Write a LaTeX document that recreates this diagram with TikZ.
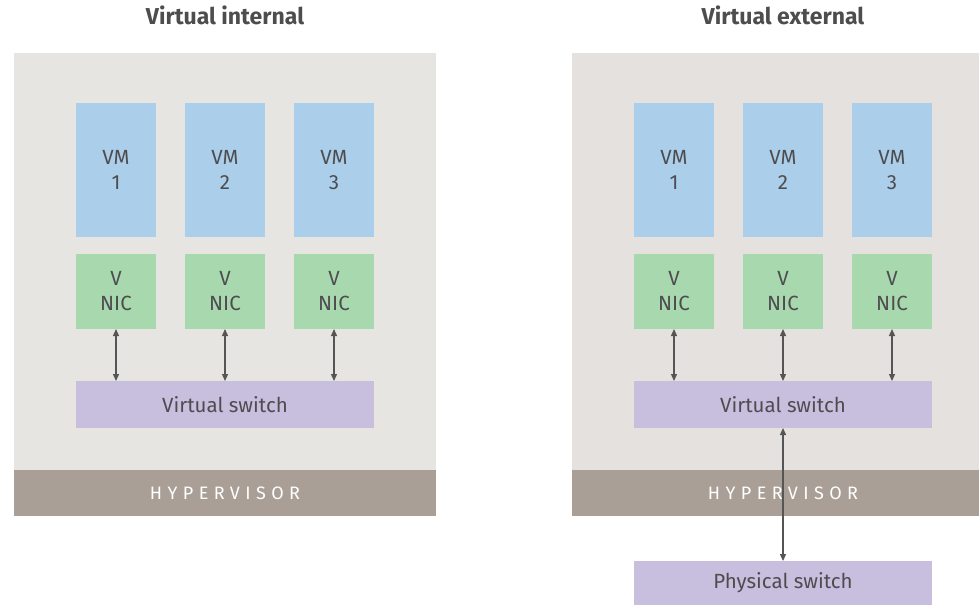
\documentclass[tikz,border=0pt]{standalone}
\usepackage{fontspec}
\setmainfont{Fira Sans}
\usetikzlibrary{arrows.meta}
\definecolor{panelbg}{HTML}{E7E5E2}
\definecolor{panelbgb}{HTML}{E5E1DE}
\definecolor{hyperc}{HTML}{A99F96}
\definecolor{vmc}{HTML}{ABCFEB}
\definecolor{nicc}{HTML}{A8D8AE}
\definecolor{swc}{HTML}{C8BFDF}
\definecolor{txtc}{HTML}{4D4D4F}
\definecolor{arrc}{HTML}{555555}
\tikzset{
  box/.style={draw=none, inner sep=0pt, outer sep=0pt, align=center, text=txtc,
    font=\fontsize{20.5}{25}\selectfont},
  vmbox/.style={box, fill=vmc, minimum width=80pt, minimum height=134pt},
  nicbox/.style={box, fill=nicc, minimum width=80pt, minimum height=75pt},
  swbox/.style={box, fill=swc, minimum width=298pt, minimum height=47pt},
  panel/.style={draw=none, inner sep=0pt, outer sep=0pt},
  hyper/.style={panel, fill=hyperc, text=white,
    font=\fontsize{18}{20}\selectfont\addfontfeature{LetterSpace=30}},
  title/.style={inner sep=0pt, text=txtc, font=\bfseries\fontsize{23}{25}\selectfont},
  link/.style={draw=arrc, line width=1.3pt, {Triangle[length=7pt,width=6pt]}-{Triangle[length=7pt,width=6pt]}}
}
\begin{document}
\begin{tikzpicture}[x=1pt,y=-1pt]
\useasboundingbox (0,0) rectangle (979,605);
% left panel
\fill[panelbg] (14,53) rectangle (436,470);
\node[hyper, minimum width=422pt, minimum height=46pt] (hypL) at (225,493) {HYPERVISOR};
\node[title, anchor=base] (tL) at (225,24) {Virtual internal};
% right panel
\fill[panelbgb] (572,53) rectangle (979,470);
\node[hyper, minimum width=407pt, minimum height=46pt] (hypR) at (775.5,493) {};
\node[hyper, inner sep=0pt] (hypRt) at (783,493) {HYPERVISOR};
\node[title, anchor=base] (tR) at (783,24) {Virtual external};
% left boxes
\foreach \i/\x in {1/116,2/225,3/334}{
  \node[vmbox] (lvm\i) at (\x,170) {VM\\\i};
  \node[nicbox] (lnic\i) at (\x,291.5) {V\\NIC};
}
\node[swbox] (lsw) at (225,404.5) {Virtual switch};
\foreach \i in {1,2,3}{
  \draw[link] (lnic\i.south) -- (lnic\i.south |- lsw.north);
}
% right boxes
\foreach \i/\x in {1/674,2/783,3/892}{
  \node[vmbox] (rvm\i) at (\x,170) {VM\\\i};
  \node[nicbox] (rnic\i) at (\x,291.5) {V\\NIC};
}
\node[swbox] (rsw) at (783,404.5) {Virtual switch};
\foreach \i in {1,2,3}{
  \draw[link] (rnic\i.south) -- (rnic\i.south |- rsw.north);
}
\node[swbox, minimum height=44pt] (psw) at (783,583) {Physical switch};
\draw[link] (rsw.south) -- (psw.north);
\end{tikzpicture}
\end{document}
